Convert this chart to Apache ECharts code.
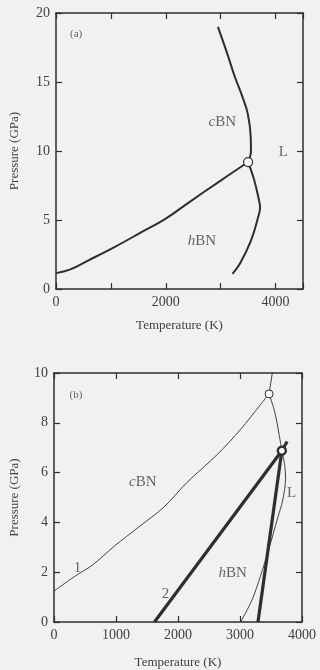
<!DOCTYPE html>
<html>
<head>
<meta charset="utf-8">
<script src="https://cdn.jsdelivr.net/npm/echarts@6/dist/echarts.min.js"></script>
<style>
  html, body { margin: 0; padding: 0; background: #f1f1f0; }
  #chart { width: 320px; height: 670px; }
</style>
</head>
<body>
<div id="chart"></div>
<script>
// ---- (a) phase boundaries, temperature in K, pressure in GPa ----
const aHcTemp   = [0, 250, 592, 1066, 1550, 2000, 2430, 2960, 3500];
const aHcPress  = [1.15, 1.4, 2.08, 3.04, 4.1, 5.1, 6.3, 7.75, 9.2];
const aCLTemp   = [2950, 3108, 3256, 3390, 3494, 3548, 3552, 3500];
const aCLPress  = [19.0, 17.2, 15.4, 14.0, 12.7, 11.0, 10.0, 9.2];
const aHLTemp   = [3500, 3611, 3700, 3718, 3682, 3552, 3352, 3215];
const aHLPress  = [9.2, 7.9, 6.4, 5.9, 5.2, 3.5, 1.84, 1.1];
const aTriple   = [3500, 9.2];

// ---- (b) phase boundaries ----
const bCurve1Temp  = [0, 327, 616, 985, 1353, 1775, 2143, 2643, 3011, 3327, 3469];
const bCurve1Press = [1.24, 1.82, 2.28, 3.07, 3.79, 4.62, 5.6, 6.75, 7.74, 8.72, 9.16];
const bCLTemp      = [3469, 3521];
const bCLPress     = [9.16, 10.0];
const bMeltTemp    = [3469, 3564, 3654, 3675];
const bMeltPress   = [9.16, 8.4, 7.2, 6.88];
const bHLTemp      = [3675, 3722, 3735, 3690, 3610, 3458, 3327, 3196, 3011];
const bHLPress     = [6.88, 6.29, 5.76, 4.9, 4.2, 2.87, 1.82, 0.9, 0.0];
const bCurve2Temp  = [1620, 3675, 3760];
const bCurve2Press = [0, 6.88, 7.25];
const bSteepTemp   = [3290, 3675];
const bSteepPress  = [0, 6.88];
const bTriple1     = [3469, 9.16];
const bTriple2     = [3675, 6.88];

// region / curve names drawn inside the plots
const aNotes = [
  { text: '(a)', at: [367, 18.5], small: true },
  { text: '{i|c}BN', at: [3030, 12.1] },
  { text: 'L', at: [4140, 9.9] },
  { text: '{i|h}BN', at: [2660, 3.5] }
];
const bNotes = [
  { text: '(b)', at: [354, 9.12], small: true },
  { text: '{i|c}BN', at: [1432, 5.63] },
  { text: 'L', at: [3830, 5.17] },
  { text: '{i|h}BN', at: [2880, 1.97] },
  { text: '1', at: [379, 2.18] },
  { text: '2', at: [1800, 1.13] }
];

const pairs = (xs, ys) => xs.map((x, i) => [x, ys[i]]);

const INK = '#2e2e2e';
const TXT = '#404040';
const FONT = 'Liberation Serif';

function axisPair(gridIndex, min, max, interval, pos, withLabels, name, nameGap, fmt) {
  const ax = {
    type: 'value', gridIndex, min, max, interval, position: pos,
    axisLine: { show: true, onZero: false, lineStyle: { color: INK, width: 1.5 } },
    axisTick: { show: true, inside: true, length: 6, lineStyle: { color: INK, width: 1.2 } },
    splitLine: { show: false },
    axisLabel: { show: withLabels, color: TXT, fontFamily: FONT, fontSize: 14, margin: 6,
                 formatter: fmt || (v => String(v)) }
  };
  if (name) {
    ax.name = name;
    ax.nameLocation = 'middle';
    ax.nameGap = nameGap;
    ax.nameTextStyle = { color: TXT, fontFamily: FONT, fontSize: 13 };
  }
  return ax;
}

function noteSeries(notes, xi, yi) {
  return {
    type: 'scatter', xAxisIndex: xi, yAxisIndex: yi, symbolSize: 0, silent: true,
    data: notes.map(n => ({
      value: n.at,
      label: {
        show: true, position: 'inside', formatter: n.text,
        color: TXT, fontFamily: FONT, fontSize: n.small ? 11 : 15,
        rich: { i: { fontStyle: 'italic', color: TXT, fontFamily: FONT, fontSize: 15 } }
      }
    }))
  };
}

function line(xs, ys, xi, yi, width, smooth) {
  return {
    type: 'line', xAxisIndex: xi, yAxisIndex: yi, data: pairs(xs, ys),
    showSymbol: false, smooth: smooth, silent: true,
    lineStyle: { color: INK, width: width }
  };
}

function dot(pt, xi, yi, size, border) {
  return {
    type: 'scatter', xAxisIndex: xi, yAxisIndex: yi, data: [pt], symbol: 'circle',
    symbolSize: size, silent: true, z: 5,
    itemStyle: { color: '#fafafa', borderColor: INK, borderWidth: border, opacity: 1 }
  };
}

const chart = echarts.init(document.getElementById('chart'), null, { renderer: 'canvas' });
chart.setOption({
  backgroundColor: '#f1f1f0',
  animation: false,
  grid: [
    { left: 50, top: 13, width: 253, height: 276 },
    { left: 49, top: 373, width: 253, height: 253 }
  ],
  xAxis: [
    axisPair(0, 0, 4500, 1000, 'bottom', true, 'Temperature (K)', 30,
      v => (v % 2000 === 0 ? String(v) : '')),
    axisPair(0, 0, 4500, 1000, 'top', false),
    axisPair(1, 0, 4000, 1000, 'bottom', true, 'Temperature (K)', 34),
    axisPair(1, 0, 4000, 1000, 'top', false)
  ],
  yAxis: [
    axisPair(0, 0, 20, 5, 'left', true, 'Pressure (GPa)', 35),
    axisPair(0, 0, 20, 5, 'right', false),
    axisPair(1, 0, 10, 2, 'left', true, 'Pressure (GPa)', 33),
    axisPair(1, 0, 10, 2, 'right', false)
  ],
  series: [
    line(aHcTemp, aHcPress, 0, 0, 2, 0.4),
    line(aCLTemp, aCLPress, 0, 0, 2, 0.4),
    line(aHLTemp, aHLPress, 0, 0, 2, 0.4),
    dot(aTriple, 0, 0, 9, 1.2),
    noteSeries(aNotes, 0, 0),

    line(bCurve1Temp, bCurve1Press, 2, 2, 0.9, 0.3),
    line(bCLTemp, bCLPress, 2, 2, 0.9, false),
    line(bMeltTemp, bMeltPress, 2, 2, 0.9, 0.3),
    line(bHLTemp, bHLPress, 2, 2, 0.9, 0.3),
    line(bCurve2Temp, bCurve2Press, 2, 2, 3.2, false),
    line(bSteepTemp, bSteepPress, 2, 2, 3.2, false),
    dot(bTriple1, 2, 2, 8, 1),
    dot(bTriple2, 2, 2, 8, 2.4),
    noteSeries(bNotes, 2, 2)
  ]
});
</script>
</body>
</html>
